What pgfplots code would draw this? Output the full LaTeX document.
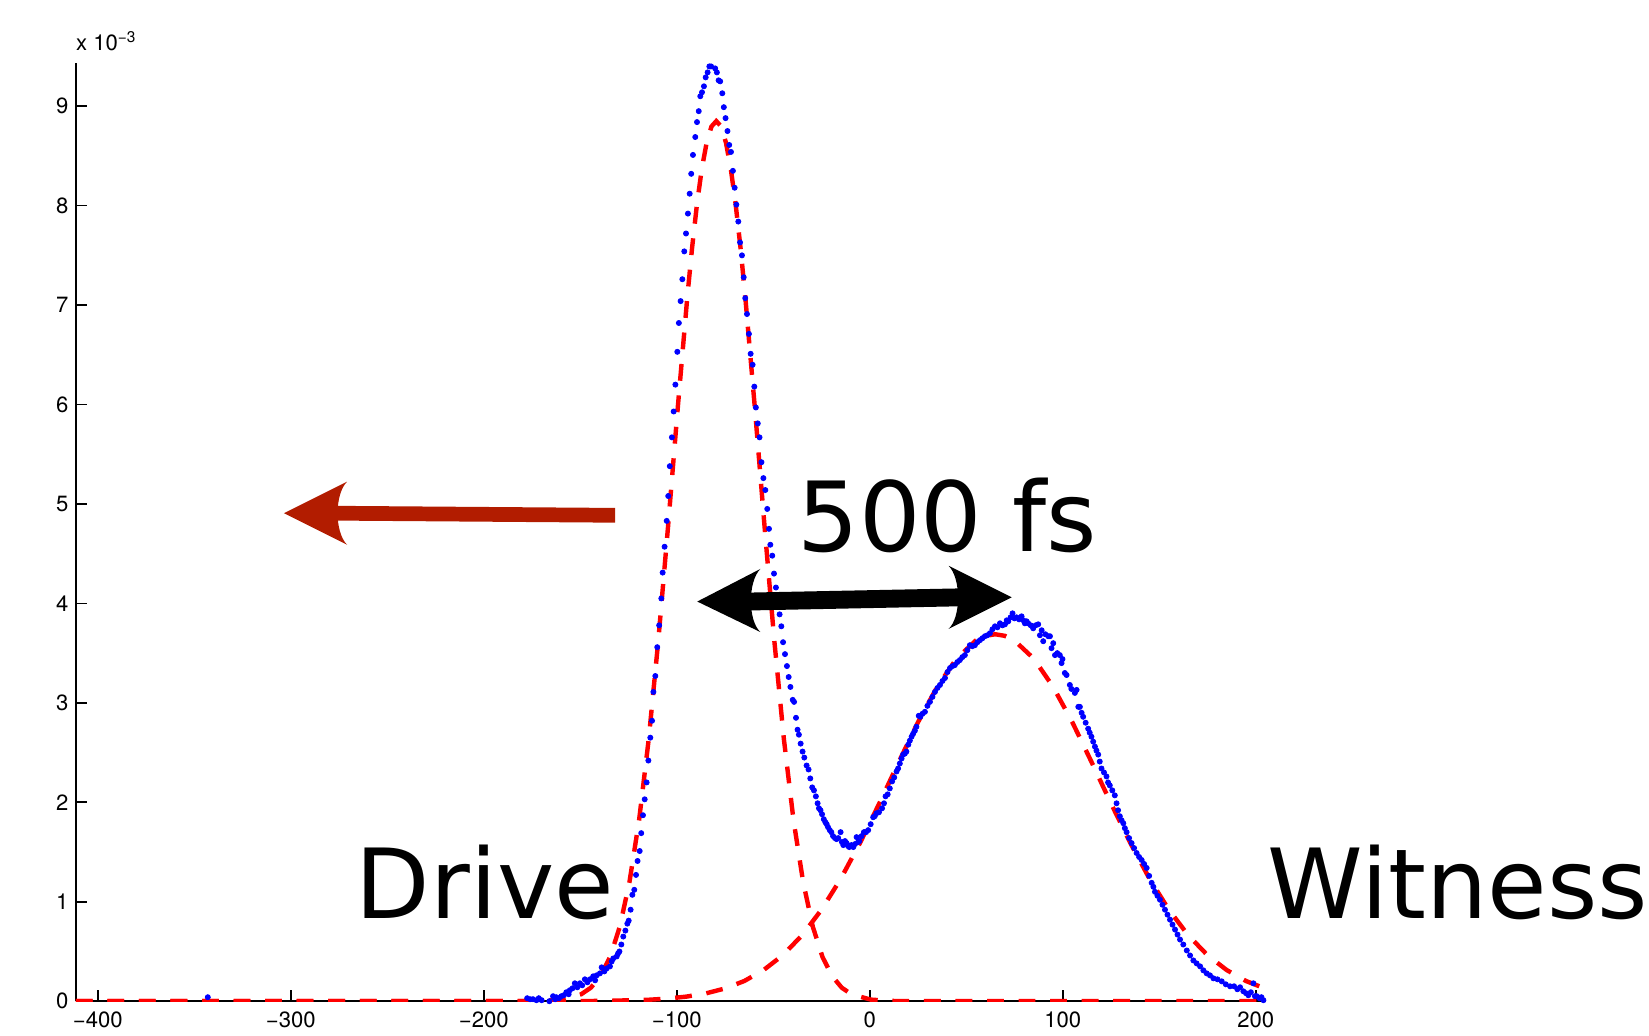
\documentclass[border=0pt]{standalone}
\usepackage{fontspec}
\setmainfont{TeX Gyre Heros}
\newfontfamily\annot{DejaVu Sans}
\usepackage{pgfplots}
\pgfplotsset{compat=1.18}

\definecolor{arrowred}{RGB}{178,28,0}

% measured profile (units of 1e-3)
\pgfplotstableread{
x y
-343.0 0.04
-177.5 0.03
-176.0 0.02
-174.5 0.02
-172.7 0.01
-171.5 0.03
-170.0 0.01
-168.0 -0.01
-166.0 0.00
-164.1 0.05
-163.0 0.02
-162.4 0.04
-161.0 0.03
-159.8 0.05
-158.5 0.06
-157.2 0.09
-156.0 0.07
-155.4 0.11
-154.0 0.13
-152.8 0.18
-151.5 0.14
-150.2 0.18
-149.0 0.16
-147.6 0.22
-146.3 0.19
-145.0 0.22
-143.3 0.25
-142.3 0.21
-141.5 0.26
-139.8 0.28
-138.9 0.34
-137.5 0.30
-136.3 0.33
-134.6 0.35
-133.7 0.40
-132.9 0.43
-131.1 0.45
-130.4 0.48
-129.7 0.50
-128.7 0.57
-127.7 0.65
-126.6 0.71
-125.6 0.78
-124.9 0.81
-123.9 0.92
-123.0 1.07
-122.0 1.12
-121.1 1.27
-120.3 1.41
-119.2 1.51
-118.4 1.69
-117.5 1.87
-116.6 2.03
-115.6 2.20
-114.7 2.42
-113.7 2.65
-112.8 2.82
-112.1 3.11
-111.1 3.27
-110.1 3.56
-109.1 3.78
-108.0 4.05
-107.3 4.31
-106.3 4.57
-105.2 4.83
-104.4 5.08
-103.6 5.38
-102.5 5.67
-101.6 5.93
-100.7 6.20
-99.7 6.53
-98.9 6.82
-98.0 7.04
-97.1 7.26
-96.1 7.54
-95.2 7.72
-94.2 7.92
-93.3 8.12
-92.5 8.32
-91.6 8.51
-90.4 8.69
-89.5 8.84
-88.6 8.95
-87.8 9.10
-86.9 9.14
-85.9 9.20
-85.0 9.29
-84.0 9.34
-83.1 9.40
-82.2 9.40
-81.1 9.44
-80.1 9.38
-79.2 9.34
-78.3 9.26
-77.5 9.25
-76.4 9.13
-75.6 8.99
-74.7 8.88
-73.7 8.75
-72.8 8.61
-71.9 8.54
-70.9 8.35
-70.0 8.18
-69.1 8.01
-68.1 7.84
-67.2 7.63
-66.2 7.50
-65.3 7.28
-64.5 7.07
-63.6 6.91
-62.6 6.71
-61.7 6.51
-60.7 6.40
-59.8 6.18
-59.0 5.97
-58.0 5.81
-57.1 5.67
-56.1 5.42
-55.1 5.26
-54.1 5.14
-53.1 4.95
-52.2 4.75
-51.5 4.59
-50.5 4.48
-49.6 4.30
-48.6 4.16
-47.6 4.02
-46.7 3.89
-45.8 3.77
-44.9 3.61
-43.9 3.49
-42.9 3.37
-42.0 3.26
-41.1 3.16
-39.9 3.03
-39.2 3.01
-38.2 2.85
-37.4 2.73
-36.7 2.68
-35.8 2.59
-34.8 2.51
-33.9 2.45
-32.7 2.37
-31.7 2.33
-30.8 2.24
-29.8 2.15
-28.9 2.12
-27.9 2.06
-27.0 1.99
-26.3 1.94
-25.5 1.92
-24.7 1.88
-23.8 1.83
-23.0 1.80
-22.3 1.78
-21.6 1.75
-20.7 1.72
-19.9 1.70
-19.0 1.66
-18.0 1.64
-17.2 1.63
-16.3 1.64
-15.1 1.70
-14.4 1.60
-13.7 1.57
-12.8 1.61
-12.0 1.59
-11.2 1.56
-10.6 1.55
-9.5 1.57
-8.5 1.55
-7.6 1.58
-6.8 1.65
-6.0 1.60
-5.4 1.61
-4.2 1.66
-3.0 1.70
-1.9 1.70
-0.8 1.72
0.5 1.78
1.8 1.85
2.6 1.86
3.5 1.89
4.8 1.90
6.4 1.94
7.4 1.99
8.2 2.06
9.3 2.08
10.4 2.14
11.6 2.21
12.7 2.25
13.9 2.31
14.7 2.34
15.6 2.39
16.5 2.44
17.3 2.48
18.2 2.49
19.0 2.51
20.0 2.58
20.8 2.62
21.7 2.66
22.5 2.69
23.4 2.72
24.2 2.76
25.4 2.87
26.2 2.86
27.3 2.89
28.6 2.91
29.9 2.97
31.2 3.01
32.5 3.06
33.8 3.11
35.1 3.15
36.4 3.18
37.7 3.22
39.0 3.25
40.3 3.31
41.6 3.35
42.9 3.37
44.1 3.38
45.4 3.41
46.7 3.43
48.0 3.46
49.3 3.48
50.6 3.53
51.9 3.58
53.2 3.57
54.5 3.58
55.8 3.61
57.1 3.63
58.4 3.65
59.7 3.67
61.0 3.68
62.3 3.70
63.6 3.74
64.9 3.77
66.2 3.76
67.5 3.80
68.8 3.78
70.1 3.79
71.0 3.83
71.8 3.82
73.0 3.86
74.0 3.90
75.0 3.85
76.1 3.86
77.4 3.84
78.7 3.87
79.6 3.83
80.4 3.80
81.3 3.82
82.1 3.80
83.4 3.78
84.7 3.75
86.0 3.78
87.3 3.79
88.2 3.68
89.1 3.73
89.9 3.62
91.0 3.69
92.5 3.67
93.4 3.67
94.2 3.55
95.1 3.60
96.0 3.48
97.2 3.50
98.5 3.48
99.4 3.40
99.9 3.44
101.1 3.30
102.0 3.28
103.7 3.18
104.5 3.14
106.3 3.10
107.2 3.13
108.1 2.96
108.9 2.96
109.8 2.90
110.6 2.86
111.9 2.80
113.2 2.74
114.0 2.70
114.9 2.66
115.8 2.61
116.7 2.56
117.5 2.52
118.4 2.48
119.2 2.41
120.1 2.34
121.4 2.30
122.7 2.26
123.5 2.20
124.4 2.17
125.7 2.12
127.0 2.07
127.9 1.99
128.7 1.92
129.6 1.86
130.5 1.82
131.4 1.79
132.2 1.74
133.1 1.70
134.4 1.64
135.7 1.59
137.0 1.54
138.3 1.49
139.6 1.45
140.9 1.42
142.2 1.38
143.5 1.34
144.8 1.26
146.1 1.19
147.0 1.15
147.8 1.10
149.1 1.06
150.4 1.02
151.7 0.97
153.0 0.92
154.3 0.87
155.6 0.82
156.9 0.77
158.2 0.72
159.5 0.67
160.8 0.62
162.5 0.57
164.3 0.51
166.0 0.46
167.7 0.41
169.4 0.38
171.2 0.35
172.9 0.31
174.6 0.28
176.3 0.26
178.1 0.23
180.2 0.22
182.4 0.20
184.5 0.17
186.7 0.15
188.8 0.15
190.5 0.12
191.9 0.14
193.6 0.10
195.0 0.08
196.2 0.06
197.5 0.09
198.8 0.18
199.6 0.05
200.6 0.05
202.0 0.03
203.0 0.04
204.0 0.01
}\measured

\begin{document}
\begin{tikzpicture}
\begin{axis}[
  scale only axis,
  width=566pt, height=445.85pt,
  xmin=-411.4, xmax=205.5, ymin=0, ymax=9.43,
  axis x line=bottom, axis y line=left,
  axis line style={-, line width=0.8pt},
  tick align=inside,
  major tick length=5.5pt,
  major tick style={line width=0.8pt, black},
  xtick={-400,-300,-200,-100,0,100,200},
  xticklabels={−400,−300,−200,−100,0,100,200},
  ytick={0,1,2,3,4,5,6,7,8,9},
  yticklabels={0,1,2,3,4,5,6,7,8,9},
  /pgf/number format/assume math mode=true,
  tick label style={font=\fontsize{10.5}{12}\selectfont},
  xticklabel style={yshift=-1.5pt},
]
% Gaussian fits
\addplot[red, line width=2.1pt, dash pattern=on 8pt off 7pt] coordinates {
(-411.4,0) (-179.5,0) (-169.5,0.003) (-159.5,0.016) (-149.5,0.070) (-144.5,0.136)
(-139.5,0.253) (-134.5,0.446) (-129.5,0.750) (-124.5,1.198) (-119.5,1.822)
(-114.5,2.639) (-109.5,3.638) (-104.5,4.774) (-99.5,5.961) (-94.5,7.086)
(-92,7.585) (-89.5,8.018) (-87,8.372) (-84.5,8.634) (-82,8.796) (-79.5,8.85)
(-77,8.796) (-74.5,8.634) (-72,8.372) (-69.5,8.018) (-67,7.585) (-64.5,7.086)
(-59.5,5.961) (-54.5,4.774) (-49.5,3.638) (-44.5,2.639) (-39.5,1.822)
(-34.5,1.198) (-29.5,0.750) (-24.5,0.446) (-19.5,0.253) (-14.5,0.136)
(-9.5,0.070) (0.5,0.016) (10.5,0.003) (20.5,0) (205.5,0)
};
\addplot[red, line width=2.1pt, dash pattern=on 8pt off 7pt] coordinates {
(-411.4,0) (-155,0) (-135,0.004) (-115,0.014) (-105,0.026) (-95,0.046)
(-85,0.078) (-75,0.128) (-65,0.203) (-55,0.313) (-45,0.463) (-35,0.664)
(-25,0.920) (-15,1.231) (-5,1.593) (5,1.990) (15,2.403) (25,2.805)
(35,3.162) (45,3.445) (55,3.627) (60,3.674) (65,3.69) (70,3.674) (75,3.627)
(85,3.445) (95,3.162) (105,2.805) (115,2.403) (125,1.990) (135,1.593)
(145,1.231) (155,0.920) (165,0.664) (175,0.463) (185,0.313) (195,0.203)
(204,0.134)
};
% measured points
\addplot[only marks, mark=*, mark size=1.2pt, blue, mark options={fill=blue}] table[x=x, y=y] {\measured};
\coordinate (O) at (axis cs:-450.68,10.068);
\end{axis}

% annotations, in reference pixel units (origin top left)
\begin{scope}[shift={(O)}, x=0.5pt, y=-0.5pt]
\path (0,0) rectangle (1568,985);
\node[anchor=base west, inner sep=0pt, font=\fontsize{10.5}{12}\selectfont] at (72,48) {x 10\textsuperscript{−3}};
% red arrow
\fill[arrowred] (270,488) -- (330,458) .. controls (318,470) and (318,506) .. (330,518) -- cycle;
\fill[arrowred] (318,481) -- (585,483) -- (585,497) -- (318,495) -- cycle;
% double arrow
\fill[black] (663,572) -- (723,541) .. controls (711,553) and (711,590) .. (723,601) -- cycle;
\fill[black] (962,568) -- (902,538) .. controls (914,550) and (914,587) .. (902,598) -- cycle;
\fill[black] (712,563.5) -- (913,559.5) -- (913,576.5) -- (712,580.5) -- cycle;
% labels
\node[anchor=base west, inner sep=0pt, font=\annot\fontsize{46}{50}\selectfont] at (338,873) {Drive};
\node[anchor=base west, inner sep=0pt, font=\annot\fontsize{46}{50}\selectfont] at (1205,873) {Witness};
\node[anchor=base west, inner sep=0pt, font=\annot\fontsize{46}{50}\selectfont] at (758,524) {500 fs};
\end{scope}
\end{tikzpicture}
\end{document}
